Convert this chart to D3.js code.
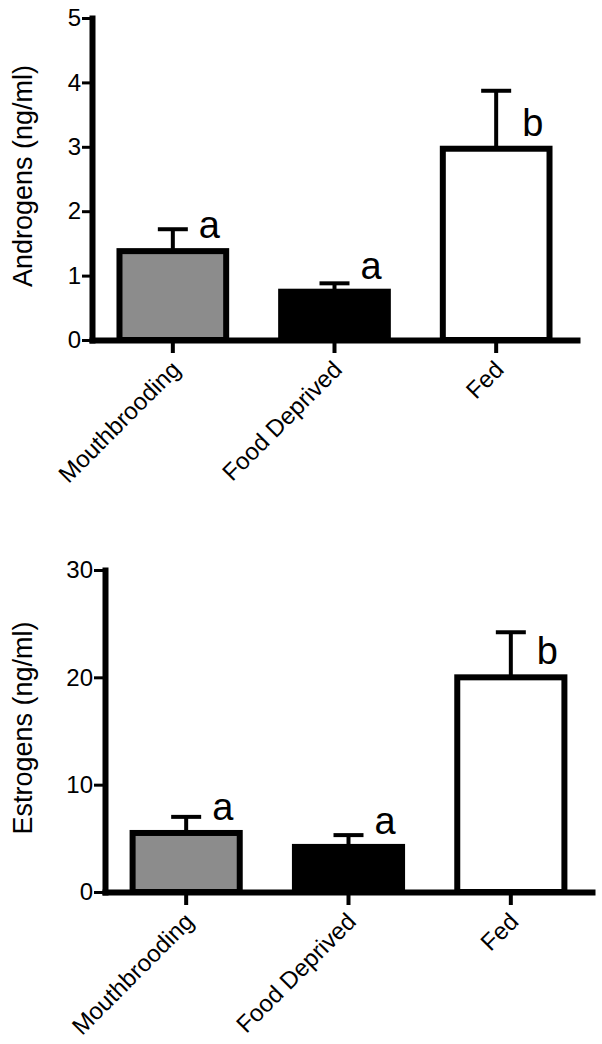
<!DOCTYPE html>
<html>
<head>
<meta charset="utf-8">
<script src="https://cdn.jsdelivr.net/npm/d3@7"></script>
<style>
  body { margin: 0; background: #fff; }
  text { font-family: "Liberation Sans", Arial, sans-serif; fill: #000; }
</style>
</head>
<body>
<div id="chart"></div>
<script>
// groups on the x axis
var categories = ["Mouthbrooding", "Food Deprived", "Fed"];

// androgens (ng/ml), mean and error
var androgenMeans = [1.38, 0.75, 2.97];
var androgenErrors = [0.34, 0.13, 0.90];
var androgenTicks = [0, 1, 2, 3, 4, 5];

// estrogens (ng/ml), mean and error
var estrogenMeans = [5.5, 4.2, 20.0];
var estrogenErrors = [1.5, 1.1, 4.2];
var estrogenTicks = [0, 10, 20, 30];

// significance letters above each bar
var sigLetters = ["a", "a", "b"];

var barFills = ["#8c8c8c", "#000000", "#ffffff"];

var svgWidth = 602;
var svgHeight = 1044;

var svg = d3.select("#chart")
    .append("svg")
    .attr("width", svgWidth)
    .attr("height", svgHeight);

// draw one bar panel
function drawPanel(opts) {
    var width = opts.width;
    var height = opts.height;

    var g = svg.append("g")
        .attr("transform", `translate(${opts.left}, ${opts.top})`);

    var x = d3.scaleBand()
        .domain(categories)
        .range([0, width])
        .paddingInner(0.34)
        .paddingOuter(0.17);

    var y = d3.scaleLinear()
        .domain([0, d3.max(opts.ticks)])
        .range([height, 0]);

    var rows = categories.map(function(c, i) {
        return {cat: c, mean: opts.means[i], err: opts.errors[i], letter: sigLetters[i], fill: barFills[i]};
    });

    // error bars (upper only)
    var errG = g.append("g");
    errG.selectAll("line.stem")
        .data(rows)
        .enter()
        .append("line")
        .attr("class", "stem")
        .attr("x1", d => x(d.cat) + x.bandwidth() / 2)
        .attr("x2", d => x(d.cat) + x.bandwidth() / 2)
        .attr("y1", d => y(d.mean))
        .attr("y2", d => y(d.mean + d.err))
        .attr("stroke", "#000")
        .attr("stroke-width", 4);

    errG.selectAll("line.cap")
        .data(rows)
        .enter()
        .append("line")
        .attr("class", "cap")
        .attr("x1", d => x(d.cat) + x.bandwidth() / 2 - 15)
        .attr("x2", d => x(d.cat) + x.bandwidth() / 2 + 15)
        .attr("y1", d => y(d.mean + d.err))
        .attr("y2", d => y(d.mean + d.err))
        .attr("stroke", "#000")
        .attr("stroke-width", 4);

    // bars
    g.selectAll("rect.bar")
        .data(rows)
        .enter()
        .append("rect")
        .attr("class", "bar")
        .attr("x", d => x(d.cat))
        .attr("y", d => y(d.mean))
        .attr("width", x.bandwidth())
        .attr("height", d => y(0) - y(d.mean))
        .attr("fill", d => d.fill)
        .attr("stroke", "#000")
        .attr("stroke-width", 6);

    // letters
    g.selectAll("text.sig")
        .data(rows)
        .enter()
        .append("text")
        .attr("class", "sig")
        .attr("x", d => x(d.cat) + x.bandwidth() / 2 + 26)
        .attr("y", d => y(d.mean) - 13)
        .attr("font-size", 38)
        .text(d => d.letter);

    // y axis
    var yAxis = g.append("g")
        .call(d3.axisLeft(y)
            .tickValues(opts.ticks)
            .tickFormat(d3.format("d"))
            .tickSize(opts.tickLen)
            .tickSizeOuter(0)
            .tickPadding(1));
    yAxis.select(".domain")
        .attr("stroke-width", 6)
        .attr("stroke-linecap", "square");
    yAxis.selectAll(".tick line").attr("stroke-width", 3);
    yAxis.selectAll(".tick text")
        .attr("font-size", 24)
        .attr("font-family", "Liberation Sans, Arial, sans-serif");

    // x axis
    var xAxis = g.append("g")
        .attr("transform", `translate(0, ${height})`)
        .call(d3.axisBottom(x).tickSize(13).tickSizeOuter(0));
    xAxis.select(".domain")
        .attr("stroke-width", 6)
        .attr("stroke-linecap", "square");
    xAxis.selectAll(".tick line").attr("stroke-width", 4);
    xAxis.selectAll(".tick text")
        .attr("font-size", 24)
        .attr("font-family", "Liberation Sans, Arial, sans-serif")
        .attr("text-anchor", "end")
        .attr("x", 0)
        .attr("y", 0)
        .attr("dy", 0)
        .attr("transform", "translate(9, 31) rotate(-45)");

    // y axis title
    svg.append("text")
        .attr("transform", `translate(23, ${opts.top + height / 2 - 3}) rotate(-90)`)
        .attr("text-anchor", "middle")
        .attr("dy", "0.35em")
        .attr("font-size", 27)
        .text(opts.title);
}

drawPanel({
    left: 92, top: 18, width: 485, height: 322, tickLen: 10,
    means: androgenMeans, errors: androgenErrors, ticks: androgenTicks,
    title: "Androgens (ng/ml)"
});

drawPanel({
    left: 105, top: 570, width: 487, height: 322, tickLen: 11,
    means: estrogenMeans, errors: estrogenErrors, ticks: estrogenTicks,
    title: "Estrogens (ng/ml)"
});
</script>
</body>
</html>
